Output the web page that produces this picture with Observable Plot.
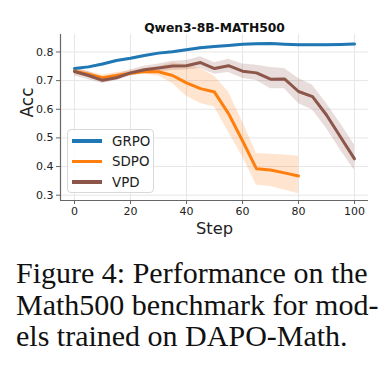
<!DOCTYPE html>
<html>
<head>
<meta charset="utf-8">
<script src="https://cdn.jsdelivr.net/npm/d3@7"></script>
<script src="https://cdn.jsdelivr.net/npm/@observablehq/plot@0.6"></script>
<style>
  body { margin: 0; background: white; }
  #wrap { position: relative; width: 392px; }
  #legend { position: absolute; left: 67px; top: 129px; width: 87px; height: 64px;
    border: 1px solid #d8d8d8; border-radius: 4px; background: rgba(255,255,255,0.85);
    font-family: "DejaVu Sans"; font-size: 13.4px; color: #222; box-sizing: border-box; }
  .item { position: absolute; left: 4px; height: 20px; display: flex; align-items: center; }
  .sw { width: 30px; height: 3.5px; margin-right: 10px; }
  #caption { font-family: "Liberation Serif", "Times New Roman", serif; font-size: 30px;
    line-height: 31.5px; color: #111; margin-top: 17px; padding-left: 16px; white-space: nowrap; }
</style>
</head>
<body>
<div id="wrap"></div>
<script>
const steps = [0,5,10,15,20,25,30,35,40,45,50,55,60,65,70,75,80,85,90,95,100];
const sdpoSteps = [0,5,10,15,20,25,30,35,40,45,50,55,60,65,70,75,80];

const grpo    = [0.742,0.748,0.758,0.770,0.778,0.788,0.796,0.801,0.808,0.815,0.819,0.823,0.827,0.829,0.830,0.827,0.825,0.825,0.825,0.826,0.828];
const grpoLo  = [0.739,0.745,0.755,0.767,0.775,0.785,0.793,0.798,0.805,0.812,0.816,0.820,0.824,0.826,0.827,0.824,0.822,0.822,0.822,0.823,0.825];
const grpoHi  = [0.745,0.751,0.761,0.773,0.781,0.791,0.799,0.804,0.811,0.818,0.822,0.826,0.830,0.832,0.833,0.830,0.828,0.828,0.828,0.829,0.831];

const sdpo    = [0.733,0.722,0.710,0.718,0.726,0.732,0.731,0.718,0.692,0.672,0.660,0.585,0.490,0.392,0.388,0.378,0.367];
const sdpoLo  = [0.722,0.712,0.700,0.708,0.718,0.722,0.716,0.690,0.645,0.620,0.608,0.520,0.434,0.335,0.330,0.318,0.305];
const sdpoHi  = [0.744,0.732,0.720,0.728,0.734,0.742,0.748,0.762,0.755,0.742,0.715,0.660,0.556,0.446,0.443,0.440,0.436];

const vpd     = [0.732,0.718,0.701,0.710,0.727,0.738,0.744,0.751,0.752,0.763,0.742,0.752,0.733,0.727,0.705,0.706,0.662,0.644,0.580,0.503,0.427];
const vpdLo   = [0.717,0.703,0.690,0.700,0.715,0.726,0.730,0.735,0.737,0.742,0.722,0.728,0.708,0.700,0.672,0.672,0.620,0.597,0.533,0.457,0.387];
const vpdHi   = [0.745,0.731,0.712,0.722,0.738,0.750,0.758,0.768,0.770,0.783,0.762,0.775,0.758,0.754,0.746,0.742,0.707,0.684,0.620,0.550,0.475];

const seriesNames = ["GRPO","SDPO","VPD"];
const colors = ["#1f77b4","#ff7f0e","#8c564b"];
const xTicks = [0,20,40,60,80,100];
const yTicks = [0.3,0.4,0.5,0.6,0.7,0.8];
const xDomain = [-5,105];
const yDomain = [0.2815,0.861];
const title = "Qwen3-8B-MATH500";

const rows = (name, xs, m, lo, hi) => xs.map((s,i) => ({series:name, step:s, acc:m[i], lo:lo[i], hi:hi[i]}));
const data = [
  ...rows("GRPO", steps, grpo, grpoLo, grpoHi),
  ...rows("SDPO", sdpoSteps, sdpo, sdpoLo, sdpoHi),
  ...rows("VPD", steps, vpd, vpdLo, vpdHi)
];

const chart = Plot.plot({
  width: 392, height: 240,
  marginLeft: 60, marginRight: 24, marginTop: 34, marginBottom: 40,
  x: {domain: xDomain, label: null},
  y: {domain: yDomain, label: null},
  color: {domain: seriesNames, range: colors},
  style: {fontFamily: "DejaVu Sans", fontSize: "11px", color: "#222", background: "white"},
  marks: [
    Plot.gridX(xTicks, {stroke: "#e6e6e6", strokeOpacity: 1}),
    Plot.gridY(yTicks, {stroke: "#e6e6e6", strokeOpacity: 1}),
    Plot.areaY(data, {x: "step", y1: "lo", y2: "hi", z: "series", fill: "series", fillOpacity: 0.2}),
    Plot.lineY(data, {x: "step", y: "acc", z: "series", stroke: "series", strokeWidth: 3}),
    Plot.ruleX([xDomain[0]], {stroke: "#666", strokeWidth: 1.2}),
    Plot.ruleY([yDomain[0]], {stroke: "#666", strokeWidth: 1.2}),
    Plot.axisX({ticks: xTicks, tickSize: 4, tickPadding: 3, stroke: "#666", label: null}),
    Plot.axisY({ticks: yTicks, tickSize: 4, tickPadding: 3, tickFormat: ".1f", stroke: "#666", label: null}),
    Plot.text([title], {frameAnchor: "top", lineAnchor: "bottom", dy: -3, fontWeight: "bold", fontSize: 12.3, fill: "#111"}),
    Plot.text(["Acc"], {frameAnchor: "left", dx: -33, rotate: -90, fontSize: 17, fill: "#222"}),
    Plot.text(["Step"], {frameAnchor: "bottom", lineAnchor: "bottom", dy: 33, fontSize: 16.3, fill: "#222"})
  ]
});

const wrap = document.getElementById("wrap");
wrap.appendChild(chart);

const legend = document.createElement("div");
legend.id = "legend";
seriesNames.forEach((n, i) => {
  const it = document.createElement("div");
  it.className = "item";
  it.style.top = (1 + i * 20.5) + "px";
  const sw = document.createElement("span");
  sw.className = "sw";
  sw.style.background = colors[i];
  const lb = document.createElement("span");
  lb.textContent = n;
  it.appendChild(sw); it.appendChild(lb);
  legend.appendChild(it);
});
wrap.appendChild(legend);

const cap = document.createElement("div");
cap.id = "caption";
cap.innerHTML = "Figure 4: Performance on the<br>Math500 benchmark for mod-<br>els trained on DAPO-Math.";
document.body.appendChild(cap);
</script>
</body>
</html>
